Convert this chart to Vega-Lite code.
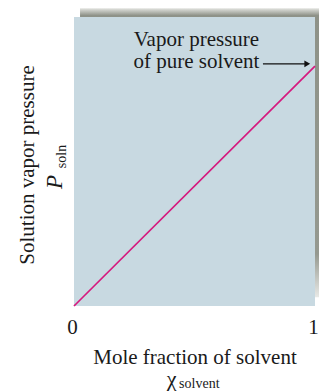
{
  "$schema": "https://vega.github.io/schema/vega-lite/v6.json",
  "width": 241,
  "height": 289,
  "autosize": {"type": "none"},
  "padding": {"left": 74, "top": 17, "right": 4, "bottom": 85},
  "background": "white",
  "config": {
    "view": {"stroke": null},
    "axisX": {"format": "d", "domain": false, "ticks": false, "tickSize": 0, "grid": false, "labelFont": "Liberation Serif", "labelFontSize": 21, "labelColor": "#1a1a1a", "labelPadding": 27, "labelBaseline": "alphabetic", "labelFlush": false, "labelOffset": -2, "titleFont": "Liberation Serif", "titleFontSize": 21, "titleFontWeight": "normal", "titleColor": "#1a1a1a", "titleBaseline": "alphabetic", "titleY": 57}
  },
  "layer": [
    {
      "data": {"values": [{"x": 0.025, "x2": 1.04, "y": 0.03, "y2": 1.03}]},
      "mark": {"type": "rect", "clip": false, "color": {"gradient": "linear", "x1": 0, "y1": 0, "x2": 0, "y2": 1, "stops": [{"offset": 0, "color": "#e2e3df"}, {"offset": 0.025, "color": "#8e9288"}, {"offset": 0.85, "color": "#959990"}, {"offset": 1, "color": "#e8e9e6"}]}},
      "encoding": {
        "x": {"field": "x", "type": "quantitative", "scale": {"domain": [0, 1], "nice": false, "zero": false}, "axis": {"values": [0, 1], "title": "Mole fraction of solvent"}},
        "x2": {"field": "x2"},
        "y": {"field": "y", "type": "quantitative", "scale": {"domain": [0, 1], "nice": false, "zero": false}, "axis": null},
        "y2": {"field": "y2"}
      }
    },
    {
      "data": {"values": [{"x": 0, "x2": 1, "y": 0, "y2": 1}]},
      "mark": {"type": "rect", "clip": false, "color": "#c8d9e1"},
      "encoding": {
        "x": {"field": "x", "type": "quantitative", "axis": {"values": [0, 1], "title": "Mole fraction of solvent"}},
        "x2": {"field": "x2"},
        "y": {"field": "y", "type": "quantitative", "axis": null},
        "y2": {"field": "y2"}
      }
    },
    {
      "data": {"values": [{"x": 0, "y": 0}, {"x": 1, "y": 0.83}]},
      "mark": {"type": "line", "color": "#d6197e", "strokeWidth": 1.7, "clip": false},
      "encoding": {
        "x": {"field": "x", "type": "quantitative", "axis": {"values": [0, 1], "title": "Mole fraction of solvent"}},
        "y": {"field": "y", "type": "quantitative", "axis": null}
      }
    },
    {
      "data": {"values": [{"x": 0.784, "x2": 0.97, "y": 0.838}]},
      "mark": {"type": "rule", "color": "#111111", "strokeWidth": 1.3},
      "encoding": {
        "x": {"field": "x", "type": "quantitative", "axis": {"values": [0, 1], "title": "Mole fraction of solvent"}},
        "x2": {"field": "x2"},
        "y": {"field": "y", "type": "quantitative", "axis": null}
      }
    },
    {
      "data": {"values": [{"x": 0.968, "y": 0.838}]},
      "mark": {"type": "point", "shape": "triangle-right", "filled": true, "size": 45, "color": "#111111", "opacity": 1},
      "encoding": {
        "x": {"field": "x", "type": "quantitative", "axis": {"values": [0, 1], "title": "Mole fraction of solvent"}},
        "y": {"field": "y", "type": "quantitative", "axis": null}
      }
    },
    {
      "data": {"values": [
        {"x": 0.508, "y": 0.9, "t": "Vapor pressure"},
        {"x": 0.508, "y": 0.824, "t": "of pure solvent"}
      ]},
      "mark": {"type": "text", "font": "Liberation Serif", "fontSize": 21, "color": "#1a1a1a", "align": "center", "baseline": "alphabetic", "clip": false},
      "encoding": {
        "x": {"field": "x", "type": "quantitative", "axis": {"values": [0, 1], "title": "Mole fraction of solvent"}},
        "y": {"field": "y", "type": "quantitative", "axis": null},
        "text": {"field": "t"}
      }
    },
    {
      "data": {"values": [{"x": 0.405, "y": -0.277, "t": "χ"}]},
      "mark": {"type": "text", "font": "Liberation Serif", "fontSize": 22, "color": "#1a1a1a", "align": "center", "baseline": "alphabetic", "clip": false},
      "encoding": {
        "x": {"field": "x", "type": "quantitative", "axis": {"values": [0, 1], "title": "Mole fraction of solvent"}},
        "y": {"field": "y", "type": "quantitative", "axis": null},
        "text": {"field": "t"}
      }
    },
    {
      "data": {"values": [{"x": 0.436, "y": -0.285, "t": "solvent"}]},
      "mark": {"type": "text", "font": "Liberation Serif", "fontSize": 14, "color": "#1a1a1a", "align": "left", "baseline": "alphabetic", "clip": false},
      "encoding": {
        "x": {"field": "x", "type": "quantitative", "axis": {"values": [0, 1], "title": "Mole fraction of solvent"}},
        "y": {"field": "y", "type": "quantitative", "axis": null},
        "text": {"field": "t"}
      }
    },
    {
      "data": {"values": [{"x": -0.166, "y": 0.488, "t": "Solution vapor pressure"}]},
      "mark": {"type": "text", "font": "Liberation Serif", "fontSize": 21, "color": "#1a1a1a", "align": "center", "baseline": "alphabetic", "angle": 270, "clip": false},
      "encoding": {
        "x": {"field": "x", "type": "quantitative", "axis": {"values": [0, 1], "title": "Mole fraction of solvent"}},
        "y": {"field": "y", "type": "quantitative", "axis": null},
        "text": {"field": "t"}
      }
    },
    {
      "data": {"values": [{"x": -0.05, "y": 0.405, "t": "P"}]},
      "mark": {"type": "text", "font": "Liberation Serif", "fontSize": 23, "fontStyle": "italic", "color": "#1a1a1a", "align": "left", "baseline": "alphabetic", "angle": 270, "clip": false},
      "encoding": {
        "x": {"field": "x", "type": "quantitative", "axis": {"values": [0, 1], "title": "Mole fraction of solvent"}},
        "y": {"field": "y", "type": "quantitative", "axis": null},
        "text": {"field": "t"}
      }
    },
    {
      "data": {"values": [{"x": -0.033, "y": 0.477, "t": "soln"}]},
      "mark": {"type": "text", "font": "Liberation Serif", "fontSize": 14, "color": "#1a1a1a", "align": "left", "baseline": "alphabetic", "angle": 270, "clip": false},
      "encoding": {
        "x": {"field": "x", "type": "quantitative", "axis": {"values": [0, 1], "title": "Mole fraction of solvent"}},
        "y": {"field": "y", "type": "quantitative", "axis": null},
        "text": {"field": "t"}
      }
    }
  ]
}
